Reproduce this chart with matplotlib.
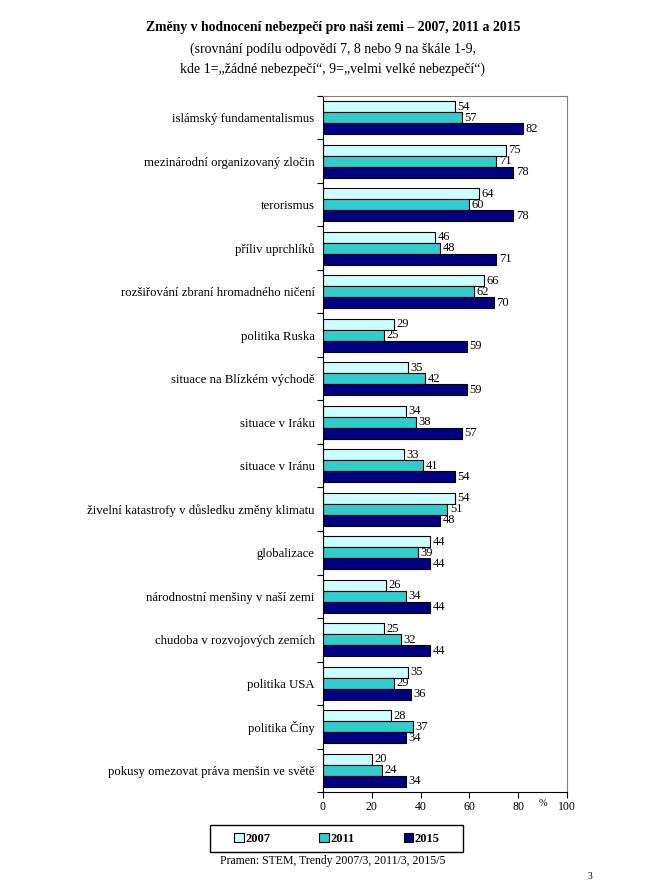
import matplotlib
matplotlib.use("Agg")
import matplotlib.pyplot as plt
from matplotlib.patches import Rectangle
import numpy as np

plt.rcParams['font.family'] = ['Liberation Serif', 'DejaVu Serif']

categories = [
    "islámský fundamentalismus",
    "mezinárodní organizovaný zločin",
    "terorismus",
    "příliv uprchlíků",
    "rozšiřování zbraní hromadného ničení",
    "politika Ruska",
    "situace na Blízkém východě",
    "situace v Iráku",
    "situace v Iránu",
    "živelní katastrofy v důsledku změny klimatu",
    "globalizace",
    "národnostní menšiny v naší zemi",
    "chudoba v rozvojových zemích",
    "politika USA",
    "politika Číny",
    "pokusy omezovat práva menšin ve světě",
]
v2007 = [54, 75, 64, 46, 66, 29, 35, 34, 33, 54, 44, 26, 25, 35, 28, 20]
v2011 = [57, 71, 60, 48, 62, 25, 42, 38, 41, 51, 39, 34, 32, 29, 37, 24]
v2015 = [82, 78, 78, 71, 70, 59, 59, 57, 54, 48, 44, 44, 44, 36, 34, 34]
series_labels = ["2007", "2011", "2015"]
colors = ["#CCFFFF", "#33CCCC", "#000080"]
xticks = [0, 20, 40, 60, 80, 100]

W, H = 666, 880
fig = plt.figure(figsize=(W / 100, H / 100), dpi=100)
ax = fig.add_axes([323/W, 1-792/H, (567-323)/W, (792-96)/H])

n = len(categories)
y = np.arange(n)
bh = 0.25
series = [v2007, v2011, v2015]
bars_all = []
for i, (vals, c, lab) in enumerate(zip(series, colors, series_labels)):
    pos = y + (i - 1) * bh
    bars = ax.barh(pos, vals, height=bh, color=c, edgecolor='black', linewidth=0.8, label=lab)
    bars_all.append(bars)
    for p, v in zip(pos, vals):
        ax.text(v + 1.0, p, str(v), va='center', ha='left', fontsize=9)

ax.set_ylim(n - 0.5, -0.5)
ax.set_xlim(0, 100)
ax.set_xticks(xticks)
ax.set_xticklabels([str(t) for t in xticks], fontsize=8.5)
ax.set_yticks(y)
ax.set_yticklabels(categories, fontsize=9.15)
ax.tick_params(axis='y', length=0, pad=6)
ax.set_yticks(np.arange(n + 1) - 0.5, minor=True)
ax.tick_params(axis='y', which='minor', length=4, direction='out', width=0.8)
ax.tick_params(axis='x', length=4, direction='out', width=0.8, pad=2.5)

for s in ['top', 'right']:
    ax.spines[s].set_color('#808080')
    ax.spines[s].set_linewidth(0.8)
for s in ['left', 'bottom']:
    ax.spines[s].set_color('black')
    ax.spines[s].set_linewidth(0.8)

fig.text(543/W, 1-803/H, "%", fontsize=7.5, ha='center', va='center')

fig.text(0.5, 1-28/H, "Změny v hodnocení nebezpečí pro naši zemi – 2007, 2011 a 2015",
         ha='center', va='center', fontsize=9.9, fontweight='bold')
fig.text(0.5, 1-49/H, "(srovnání podílu odpovědí 7, 8 nebo 9 na škále 1-9,",
         ha='center', va='center', fontsize=10)
fig.text(0.5, 1-69/H, "kde 1=„žádné nebezpečí“, 9=„velmi velké nebezpečí“)",
         ha='center', va='center', fontsize=10)

# legend frame
fig.patches.append(Rectangle((210/W, 1-852/H), (463-210)/W, (852-825)/H,
                             transform=fig.transFigure, fill=False,
                             edgecolor='black', linewidth=1.0))
leg = fig.legend(handles=[b[0] for b in bars_all], labels=series_labels,
                 loc='center', bbox_to_anchor=(337/W, 1-838.5/H), ncol=3,
                 frameon=False,
                 prop={'weight': 'bold', 'size': 9},
                 handlelength=0.75, handleheight=0.75, handletextpad=0.15,
                 columnspacing=3.9, borderpad=0.0)

fig.text(333/W, 1-861/H, "Pramen: STEM, Trendy 2007/3, 2011/3, 2015/5",
         ha='center', va='center', fontsize=8.5)
fig.text(590/W, 1-876/H, "3", ha='center', va='center', fontsize=7)

fig.savefig("out.png", dpi=100)
